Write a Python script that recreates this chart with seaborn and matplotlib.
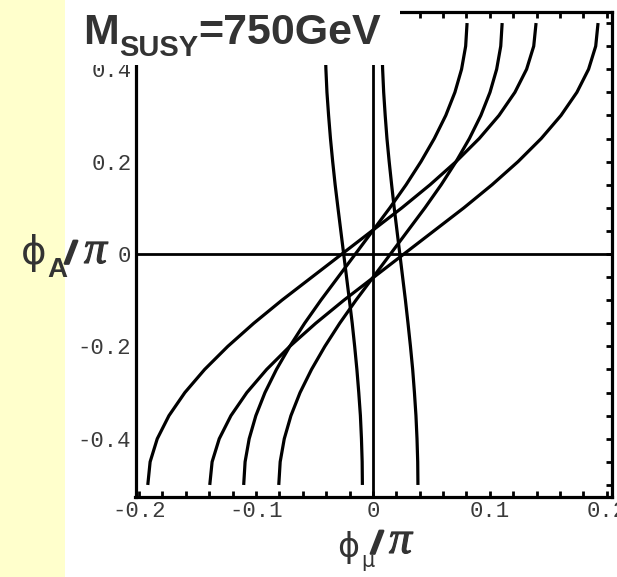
import matplotlib
matplotlib.use("Agg")
import matplotlib.pyplot as plt
import numpy as np
import pandas as pd
import seaborn as sns
from matplotlib.patches import Rectangle
from matplotlib.transforms import IdentityTransform
from matplotlib.ticker import MultipleLocator, FixedLocator
import matplotlib.patheffects as pe

# ---- data (phi_mu/pi values along each curve) ----
phi_A = [-0.5, -0.45, -0.4, -0.35, -0.3, -0.25, -0.2, -0.15, -0.1, 0.0,
         0.1, 0.15, 0.2, 0.25, 0.3, 0.35, 0.4, 0.45, 0.5]
curve_a = [-0.1925, -0.1905, -0.1844, -0.1744, -0.1608, -0.1439, -0.1241, -0.1019, -0.0778, -0.0265,
           0.0248, 0.0489, 0.0711, 0.0909, 0.1078, 0.1214, 0.1314, 0.1375, 0.1395]
curve_b = [-0.1395, -0.1375, -0.1314, -0.1214, -0.1078, -0.0909, -0.0711, -0.0489, -0.0248, 0.0265,
           0.0778, 0.1019, 0.1241, 0.1439, 0.1608, 0.1744, 0.1844, 0.1905, 0.1925]
curve_c = [-0.1105, -0.1093, -0.1058, -0.1001, -0.0923, -0.0825, -0.0711, -0.0584, -0.0445, -0.0150,
           0.0145, 0.0284, 0.0411, 0.0525, 0.0623, 0.0701, 0.0758, 0.0793, 0.0805]
curve_d = [-0.0805, -0.0793, -0.0758, -0.0701, -0.0623, -0.0525, -0.0411, -0.0284, -0.0145, 0.0150,
           0.0445, 0.0584, 0.0711, 0.0825, 0.0923, 0.1001, 0.1058, 0.1093, 0.1105]
curve_s1 = [-0.0090, -0.0092, -0.0098, -0.0107, -0.0121, -0.0137, -0.0156, -0.0177, -0.0201, -0.0250,
            -0.0299, -0.0323, -0.0344, -0.0363, -0.0379, -0.0393, -0.0402, -0.0408, -0.0410]
curve_s2 = [0.0385, 0.0383, 0.0377, 0.0368, 0.0355, 0.0340, 0.0321, 0.0300, 0.0278, 0.0230,
            0.0182, 0.0160, 0.0139, 0.0120, 0.0105, 0.0092, 0.0083, 0.0077, 0.0075]

x_tick_vals = [-0.2, -0.1, 0.0, 0.1, 0.2]
x_tick_labels = ["-0.2", "-0.1", "0", "0.1", "0.2"]
y_tick_vals = [-0.4, -0.2, 0.0, 0.2, 0.4]
y_tick_labels = ["-0.4", "-0.2", "0", "0.2", "0.4"]

curves = {"a": curve_a, "b": curve_b, "c": curve_c, "d": curve_d, "s1": curve_s1, "s2": curve_s2}
rows = []
for name, xs in curves.items():
    for i, (xv, yv) in enumerate(zip(xs, phi_A)):
        rows.append({"curve": name, "order": i, "phi_mu": xv, "phi_A": yv})
df = pd.DataFrame(rows)

sns.set_theme(style="white")
plt.rcParams["font.family"] = ["Liberation Sans", "DejaVu Sans"]

W, H = 617, 577
fig = plt.figure(figsize=(W / 100, H / 100), dpi=100)
fig.patch.set_facecolor("white")

# axes placed by pixel frame
L, R, T, B = 135.5, 611.5, 11.5, 496.5
ax = fig.add_axes([L / W, 1 - B / H, (R - L) / W, (B - T) / H])
ax.set_facecolor("white")

sns.lineplot(data=df, x="phi_mu", y="phi_A", units="curve", estimator=None, sort=False,
             color="black", lw=2.3, ax=ax, legend=False, solid_capstyle="butt")
ax.axhline(0, color="black", lw=2.0, zorder=3)
ax.axvline(0, color="black", lw=2.0, zorder=3)

ax.set_xlim(-0.203, 0.204)
ax.set_ylim(-0.525, 0.525)
for sp in ax.spines.values():
    sp.set_visible(True)
    sp.set_color("black")
    sp.set_linewidth(2.3)

tick_font = dict(family="Liberation Mono", size=16)
ax.xaxis.set_major_locator(FixedLocator(x_tick_vals))
ax.set_xticklabels(x_tick_labels, fontdict=tick_font, color="#3a3a3a")
ax.xaxis.set_minor_locator(MultipleLocator(0.02))
ax.tick_params(axis="x", which="both", direction="in", length=4, width=2, color="black",
               top=True, bottom=True, labelbottom=True, labeltop=False, pad=3)

ax.yaxis.set_major_locator(FixedLocator(y_tick_vals))
ax.set_yticklabels(y_tick_labels, fontdict=tick_font, color="#3a3a3a")
ax.yaxis.set_minor_locator(MultipleLocator(0.05))
ax.tick_params(axis="y", which="both", direction="in", length=4, width=2, color="black",
               left=False, right=True, labelleft=True, labelright=False, pad=3)
ax.set_xlabel("")
ax.set_ylabel("")

# yellow strip at left
fig.patches.append(Rectangle((0, 0), 65 / W, 1, transform=fig.transFigure,
                             facecolor="#FFFFCC", edgecolor="none", zorder=-1))
# white title box
fig.patches.append(Rectangle((65 / W, 1 - 65 / H), (400 - 65) / W, 65 / H, transform=fig.transFigure,
                             facecolor="white", edgecolor="none", zorder=1))

renderer = fig.canvas.get_renderer()


def put(x, base, s, **kw):
    return fig.text(x, H - base, s, transform=IdentityTransform(), va="baseline",
                    ha="left", color="#333333", zorder=4, **kw)


def run(pieces, x, base):
    for s, dy, kw in pieces:
        t = put(x, base + dy, s, **kw)
        x += t.get_window_extent(renderer).width
    return x


bold = dict(family="Liberation Sans", weight="bold")
thick = [pe.withStroke(linewidth=1.8, foreground="#333333")]
slash = dict(family="Liberation Sans", weight="bold", style="italic", path_effects=thick)
pi_kw = dict(family="Liberation Serif", style="italic",
             path_effects=[pe.withStroke(linewidth=0.8, foreground="#333333")])

# title
run([("M", 0, dict(size=31, **bold)),
     ("SUSY", 12, dict(size=21, **bold)),
     ("=750GeV", 0, dict(size=31, **bold))], 83, 44)

# y label  phi_A / pi
put(21, 264, "\u03d5", size=28, family="DejaVu Sans")
put(47, 277, "A", size=20, **bold)
put(66, 263, "/", size=22, **slash)
put(84, 263, "\u03c0", size=33, **pi_kw)

# x label  phi_mu / pi
put(337, 557, "\u03d5", size=24, family="DejaVu Sans")
put(361, 567, "\u03bc", size=15, family="DejaVu Sans")
put(372, 553, "/", size=22, **slash)
put(389, 553, "\u03c0", size=33, **pi_kw)

fig.savefig("out.png", dpi=100, facecolor="white")
